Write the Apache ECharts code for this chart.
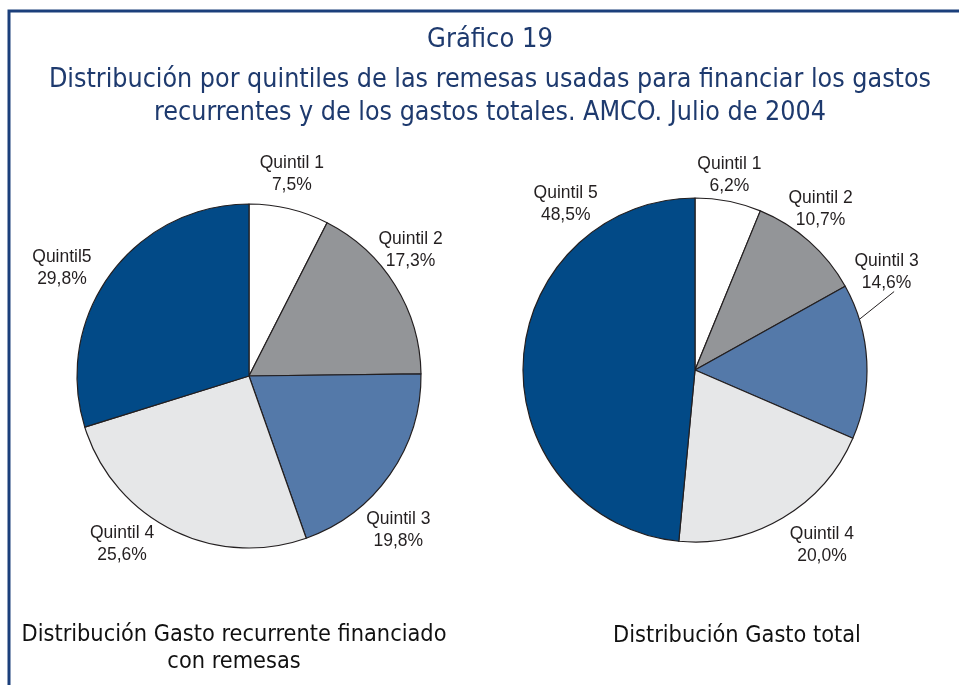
<!DOCTYPE html>
<html>
<head>
<meta charset="utf-8">
<script src="https://cdn.jsdelivr.net/npm/echarts@6/dist/echarts.min.js"></script>
<style>
  html, body { margin: 0; padding: 0; background: #fff; }
  #main { width: 959px; height: 685px; }
</style>
</head>
<body>
<div id="main"></div>
<script>
// data
var quintiles1 = ['Quintil 1', 'Quintil 2', 'Quintil 3', 'Quintil 4', 'Quintil5'];
var quintiles2 = ['Quintil 1', 'Quintil 2', 'Quintil 3', 'Quintil 4', 'Quintil 5'];
var gastoRecurrente = [7.5, 17.3, 19.8, 25.6, 29.8];
var gastoTotal = [6.2, 10.7, 14.6, 20.0, 48.5];

var colors = ['#ffffff', '#939598', '#5479a9', '#e6e7e8', '#024a87'];
var navy = '#1e3a6e';
var titleFont = '"Liberation Sans Narrow", "DejaVu Sans Condensed", "Open Sans", sans-serif';

// label placement, [angle clockwise from 12 o'clock, distance from centre]
var labelPos1 = [[12, 206], [52, 205], [136, 215], [217, 211], [300, 216]];
var labelPos2 = [[10, 198], [38, 204], [63, 215], [144, 216], [322, 210]];
// leader line for Quintil 3 of the second pie, same polar form
var leader2 = [[73, 171], [68.5, 214]];
var center1 = [249, 376];
var center2 = [695, 370];
var radius = 172;

function fmt(v) {
    return v.toFixed(1).replace('.', ',') + '%';
}

function polar(center, p) {
    var a = p[0] * Math.PI / 180;
    return [center[0] + p[1] * Math.sin(a), center[1] - p[1] * Math.cos(a)];
}

function makeData(names, values) {
    return names.map(function(n, i) {
        return { name: n, value: values[i], itemStyle: { color: colors[i] } };
    });
}

function layoutFor(center, pos, leaderIndex, leader) {
    return function(params) {
        var xy = polar(center, pos[params.dataIndex]);
        var out = { x: xy[0], y: xy[1], align: 'center', verticalAlign: 'middle' };
        if (params.dataIndex === leaderIndex) {
            out.labelLinePoints = leader.map(function(p) { return polar(center, p); });
        }
        return out;
    };
}

var pieLabel = {
    show: true,
    position: 'outside',
    formatter: function(p) { return p.name + '\n' + fmt(p.value); },
    fontFamily: 'Arial, "Liberation Sans", sans-serif',
    fontSize: 17.5,
    lineHeight: 22,
    color: '#231f20'
};

var data2 = makeData(quintiles2, gastoTotal);
data2[2].labelLine = { show: true, lineStyle: { color: '#231f20', width: 1 } };

var chart = echarts.init(document.getElementById('main'));

var option = {
    backgroundColor: '#fff',
    animation: false,
    title: [{
        text: 'Gráfico 19',
        left: 490,
        top: 26,
        padding: 0,
        textAlign: 'center',
        textStyle: { color: navy, fontFamily: titleFont, fontWeight: 'normal', fontSize: 27 }
    }, {
        text: 'Distribución por quintiles de las remesas usadas para financiar los gastos\nrecurrentes y de los gastos totales. AMCO. Julio de 2004',
        left: 490,
        top: 64,
        padding: 0,
        textAlign: 'center',
        textStyle: { color: navy, fontFamily: titleFont, fontWeight: 'normal', fontSize: 26.6, lineHeight: 33, align: 'center' }
    }, {
        text: 'Distribución Gasto recurrente financiado\ncon remesas',
        left: 234,
        top: 621,
        padding: 0,
        textAlign: 'center',
        textStyle: { color: '#111', fontFamily: titleFont, fontWeight: 'normal', fontSize: 23.3, lineHeight: 27, align: 'center' }
    }, {
        text: 'Distribución Gasto total',
        left: 737,
        top: 624,
        padding: 0,
        textAlign: 'center',
        textStyle: { color: '#111', fontFamily: titleFont, fontWeight: 'normal', fontSize: 23.3 }
    }],
    graphic: [{
        type: 'polyline',
        shape: { points: [[9, 685], [9, 11], [959, 11]] },
        style: { stroke: '#1b3f7b', lineWidth: 3, fill: null }
    }],
    series: [{
        name: 'Gasto recurrente',
        type: 'pie',
        center: center1,
        radius: radius,
        startAngle: 90,
        clockwise: true,
        avoidLabelOverlap: false,
        itemStyle: { borderColor: '#231f20', borderWidth: 1.2 },
        label: pieLabel,
        labelLine: { show: false },
        labelLayout: layoutFor(center1, labelPos1, -1, null),
        emphasis: { disabled: true },
        data: makeData(quintiles1, gastoRecurrente)
    }, {
        name: 'Gasto total',
        type: 'pie',
        center: center2,
        radius: radius,
        startAngle: 90,
        clockwise: true,
        avoidLabelOverlap: false,
        itemStyle: { borderColor: '#231f20', borderWidth: 1.2 },
        label: pieLabel,
        labelLine: { show: false },
        labelLayout: layoutFor(center2, labelPos2, 2, leader2),
        emphasis: { disabled: true },
        data: data2
    }]
};

chart.setOption(option);
</script>
</body>
</html>
